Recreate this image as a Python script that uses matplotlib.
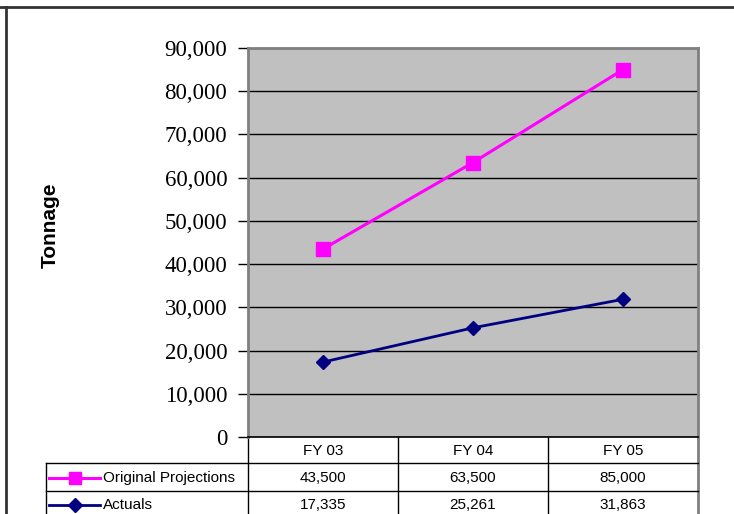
import numpy as np
import matplotlib.pyplot as plt

categories = ['FY 03', 'FY 04', 'FY 05']
projections = [43500, 63500, 85000]
actuals = [17335, 25261, 31863]
series_names = ['Original Projections', 'Actuals']
y_ticks = [0, 10000, 20000, 30000, 40000, 50000, 60000, 70000, 80000, 90000]

W, H = 734, 514
fig = plt.figure(figsize=(W / 100, H / 100), dpi=100)

# plot area in pixels
left, right, top, bottom = 248, 698, 48, 437
ax = fig.add_axes([left / W, 1 - bottom / H, (right - left) / W, (bottom - top) / H])
ax.set_facecolor('#C0C0C0')

x = np.arange(len(categories))
ax.plot(x, projections, color='#FF00FF', lw=2.2, marker='s', ms=10, mfc='#FF00FF', mec='#FF00FF', zorder=4)
ax.plot(x, actuals, color='#000080', lw=2, marker='D', ms=7.5, mfc='#000080', mec='#000080', zorder=4)

ax.set_xlim(-0.5, len(categories) - 0.5)
ax.set_ylim(0, 90000)
ax.set_yticks(y_ticks)
ax.set_yticklabels([f'{v:,}' for v in y_ticks], fontfamily='Liberation Serif', fontsize=16.5)
ax.tick_params(axis='y', length=7, width=1, color='black', pad=8)
ax.set_xticks([])
ax.grid(axis='y', color='black', lw=1)
ax.set_axisbelow(True)
for s in ['top', 'right', 'left']:
    ax.spines[s].set_color('#808080')
    ax.spines[s].set_linewidth(2)
ax.spines['bottom'].set_color('black')
ax.spines['bottom'].set_linewidth(1.2)

fig.text(50 / W, 1 - 225 / H, 'Tonnage', rotation=90, fontsize=15, fontweight='bold',
         fontfamily='Liberation Sans', ha='center', va='center')

# overlay for table and border
ov = fig.add_axes([0, 0, 1, 1], zorder=-1)
ov.set_xlim(0, W)
ov.set_ylim(H, 0)
ov.axis('off')
ov.patch.set_alpha(0)

# outer chart border
ov.plot([0, W], [7, 7], color='#333333', lw=2)
ov.plot([6, 6], [7, H], color='#333333', lw=2)

# data table
col_edges = [left + i * (right - left) / len(categories) for i in range(len(categories) + 1)]
row_y = [bottom, 463, 491, 520]
label_left = 46
tk = dict(color='black', lw=1)
for xe in col_edges:
    c = '#808080' if xe == right else 'black'
    ov.plot([xe, xe], [bottom, H], color=c, lw=2 if xe == right else 1)
ov.plot([label_left, label_left], [row_y[1], H], **tk)
ov.plot([label_left, right], [row_y[1], row_y[1]], **tk)
ov.plot([label_left, right], [row_y[2], row_y[2]], **tk)

tfont = dict(fontfamily='Liberation Sans', fontsize=11, ha='center', va='center')
ky1 = (row_y[1] + row_y[2]) / 2 + 1
ky2 = 505
for i, cat in enumerate(categories):
    cx = (col_edges[i] + col_edges[i + 1]) / 2
    ov.text(cx, (row_y[0] + row_y[1]) / 2 + 1, cat, **tfont)
    ov.text(cx, ky1, f'{projections[i]:,}', **tfont)
    ov.text(cx, ky2, f'{actuals[i]:,}', **tfont)

# legend keys
ov.plot([49, 100], [ky1, ky1], color='#FF00FF', lw=2.2)
ov.plot([75], [ky1], marker='s', ms=9, color='#FF00FF')
ov.plot([49, 100], [ky2, ky2], color='#000080', lw=2)
ov.plot([75], [ky2], marker='D', ms=7, color='#000080')
ov.text(103, ky1, series_names[0], fontfamily='Liberation Sans', fontsize=11, va='center', ha='left')
ov.text(103, ky2, series_names[1], fontfamily='Liberation Sans', fontsize=11, va='center', ha='left')

fig.savefig('out.png', dpi=100)
